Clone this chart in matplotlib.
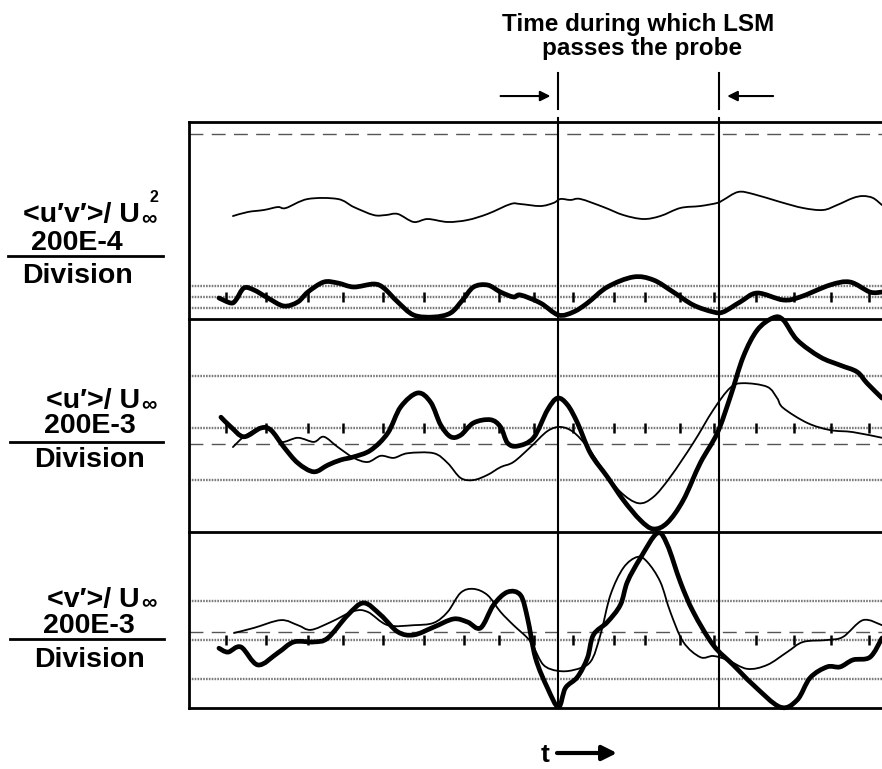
import numpy as np
import matplotlib
matplotlib.use("Agg")
import matplotlib.pyplot as plt
from matplotlib.path import Path
from matplotlib.patches import PathPatch, FancyArrowPatch

plt.rcParams["font.family"] = ["Liberation Sans", "DejaVu Sans"]
plt.rcParams["font.weight"] = "bold"

# ---- time base (arbitrary units) ----
T_MAX = 69.4
lsm_start = 37.0
lsm_end = 53.1
tick_t = [3.7, 7.7, 11.9, 15.4, 19.4, 23.5, 27.5, 31.0, 34.5, 38.5,
          42.6, 45.7, 49.2, 52.6, 56.8, 60.6, 64.3, 68.1]

# ---- <u'v'>/U^2 panel (values in divisions) ----
uv_thin_t = [4.4, 5.9, 7.5, 8.9, 9.7, 11.9, 14.9, 16.5, 18.5, 19.7, 20.9, 22.5,
             23.9, 25.9, 27.9, 29.9, 32.2, 33.2, 35.2, 36.5, 37.2, 38.2, 39.2,
             41.5, 43.5, 45.5, 47.2, 49.2, 51.2, 52.9, 53.5, 55.0, 56.5, 59.2,
             61.5, 63.5, 64.9, 66.5, 67.5, 68.5, 69.4]
uv_thin_y = [7.36, 7.73, 7.91, 8.18, 8.09, 8.91, 8.91, 8.18, 7.45, 7.45, 7.55, 6.82,
             7.09, 6.82, 7.00, 7.55, 8.45, 8.45, 8.27, 8.55, 8.91, 8.82, 8.91,
             8.18, 7.45, 7.09, 7.36, 8.09, 8.27, 8.55, 8.82, 9.55, 9.36, 8.64,
             8.09, 7.91, 8.36, 9.00, 9.18, 9.00, 8.36]
uv_thick_t = [3.0, 4.2, 4.7, 5.5, 6.5, 7.9, 9.5, 10.9, 11.9, 13.5, 14.9, 16.5,
              18.5, 19.5, 20.9, 22.5, 24.5, 26.2, 27.4, 28.5, 29.9, 31.2, 32.5,
              33.2, 35.2, 37.0, 38.5, 39.9, 41.9, 44.5, 46.5, 48.5, 50.5, 52.5,
              53.5, 55.2, 56.9, 59.5, 61.2, 64.2, 66.2, 68.2, 69.4]
uv_thick_y = [-0.09, -0.55, -0.27, 0.82, 0.64, -0.09, -0.82, -0.45, 0.45, 1.36, 1.27, 0.91,
              1.18, 0.82, -0.45, -1.64, -1.82, -1.45, -0.27, 0.91, 1.09, 0.45, 0.00,
              0.18, -0.55, -1.64, -1.36, -0.55, 0.91, 1.82, 1.55, 0.45, -0.73, -1.36,
              -1.36, -0.45, 0.36, -0.27, 0.00, 1.09, 1.36, 0.45, 0.45]

# ---- <u'>/U panel ----
u_thin_t = [4.4, 5.5, 7.2, 8.2, 9.2, 10.9, 12.5, 13.5, 14.9, 16.5, 17.9, 19.2,
            20.5, 21.9, 24.5, 25.9, 27.2, 28.5, 29.9, 31.2, 32.5, 34.2, 35.9,
            37.2, 38.5, 39.9, 41.5, 43.2, 45.0, 46.5, 48.2, 50.5, 52.5, 54.2,
            55.5, 57.9, 58.9, 59.5, 61.9, 64.2, 66.5, 69.4]
u_thin_y = [-0.37, -0.17, 0.02, -0.04, -0.27, -0.19, -0.27, -0.17, -0.37, -0.58, -0.66, -0.54,
            -0.58, -0.49, -0.49, -0.68, -0.97, -1.01, -0.91, -0.76, -0.66, -0.37, -0.06,
            0.02, -0.08, -0.37, -0.82, -1.24, -1.46, -1.34, -0.95, -0.29, 0.35, 0.78,
            0.87, 0.80, 0.58, 0.39, 0.10, -0.04, -0.08, -0.19]
u_thick_t = [3.2, 4.2, 5.5, 7.2, 8.2, 9.5, 10.9, 12.5, 13.9, 15.2, 16.5, 18.2,
             19.9, 21.2, 22.9, 24.2, 25.2, 26.2, 27.2, 28.5, 30.2, 31.2, 31.9,
             32.9, 34.5, 35.9, 36.9, 37.9, 38.9, 40.2, 41.9, 43.5, 45.2, 46.5,
             47.9, 49.5, 51.2, 52.9, 54.2, 55.5, 56.9, 58.5, 59.5, 60.9, 63.2,
             65.2, 66.9, 67.9, 69.4]
u_thick_y = [0.21, 0.02, -0.17, 0.00, -0.04, -0.37, -0.68, -0.85, -0.72, -0.62, -0.56, -0.43,
             -0.10, 0.41, 0.68, 0.50, 0.06, -0.17, -0.14, 0.10, 0.16, 0.02, -0.29,
             -0.35, -0.19, 0.35, 0.58, 0.45, 0.10, -0.49, -0.95, -1.40, -1.79, -1.96,
             -1.84, -1.40, -0.68, -0.10, 0.60, 1.38, 1.90, 2.14, 2.10, 1.71, 1.38,
             1.22, 1.09, 0.87, 0.58]

# ---- <v'>/U panel ----
v_thin_t = [4.5, 6.5, 9.2, 10.9, 12.2, 14.2, 16.5, 17.9, 19.9, 22.5, 24.5, 25.9,
            27.2, 28.5, 29.9, 31.2, 32.5, 33.9, 34.5, 35.5, 36.9, 38.5, 40.2,
            41.2, 42.2, 43.5, 44.9, 45.9, 47.2, 48.2, 49.5, 51.2, 52.5, 53.9,
            55.9, 57.9, 59.9, 61.5, 63.9, 65.5, 67.5, 69.4]
v_thin_y = [0.18, 0.31, 0.51, 0.38, 0.26, 0.46, 0.74, 0.72, 0.38, 0.38, 0.44, 0.72,
            1.21, 1.31, 1.15, 0.72, 0.38, 0.05, -0.18, -0.64, -0.79, -0.77, -0.56,
            0.13, 1.15, 1.85, 2.13, 2.00, 1.49, 0.72, -0.05, -0.44, -0.41, -0.51,
            -0.74, -0.64, -0.31, -0.05, 0.00, 0.08, 0.51, 0.38]
v_thick_t = [3.0, 3.9, 5.2, 6.9, 8.9, 10.5, 12.5, 13.9, 15.9, 17.5, 19.2, 20.9,
             22.5, 24.5, 26.5, 27.9, 29.2, 30.5, 31.9, 33.2, 33.9, 34.7, 35.9,
             37.0, 37.7, 38.9, 39.9, 40.5, 41.9, 43.2, 43.9, 45.2, 46.9, 47.9,
             49.2, 50.5, 52.5, 54.5, 56.5, 59.2, 60.9, 62.2, 63.9, 65.2, 66.5,
             68.2, 69.4]
v_thick_y = [-0.21, -0.31, -0.18, -0.64, -0.33, -0.05, -0.05, 0.05, 0.64, 0.95, 0.64, 0.21,
             0.13, 0.33, 0.54, 0.46, 0.31, 0.90, 1.23, 1.15, 0.56, -0.46, -1.23,
             -1.72, -1.23, -0.95, -0.46, 0.13, 0.46, 0.90, 1.49, 2.10, 2.74, 2.44,
             1.49, 0.72, -0.13, -0.64, -1.15, -1.72, -1.54, -0.97, -0.69, -0.69, -0.51,
             -0.44, 0.05]

# ---- panel ranges and reference lines (divisions) ----
uv_ylim = (-1.955, 15.91)
u_ylim = (-2.025, 2.126)
v_ylim = (-1.744, 2.762)
uv_grid = [-1, 0, 1]
u_grid = [-1, 0, 1]
v_grid = [-1, 0, 1]
uv_dash = 14.79
u_dash = -0.32
v_dash = 0.21

W, H = 882, 769
fig = plt.figure(figsize=(W / 100, H / 100), dpi=100)


def fx(px):
    return px / W


def fy(py):
    return 1 - py / H


def smooth_path(t, y):
    p = np.column_stack([t, y]).astype(float)
    n = len(p)
    verts = [p[0]]
    codes = [Path.MOVETO]
    for i in range(n - 1):
        p0 = p[i - 1] if i > 0 else p[i]
        p1 = p[i]
        p2 = p[i + 1]
        p3 = p[i + 2] if i + 2 < n else p[i + 1]
        verts += [p1 + (p2 - p0) / 6, p2 - (p3 - p1) / 6, p2]
        codes += [Path.CURVE4] * 3
    return Path(verts, codes)


def trace(ax, t, y, lw):
    ax.add_patch(PathPatch(smooth_path(t, y), fill=False, edgecolor="black", lw=lw,
                           capstyle="round", joinstyle="round", clip_on=False, zorder=5))


def panel(rect, ylim, grid, dash, top_spine=False):
    ax = fig.add_axes(rect)
    ax.patch.set_visible(False)
    ax.set_xlim(0, T_MAX)
    ax.set_ylim(*ylim)
    ax.set_xticks([])
    ax.set_yticks([])
    ax.spines["right"].set_visible(False)
    ax.spines["top"].set_visible(top_spine)
    for side in ["left", "bottom", "top"]:
        ax.spines[side].set_linewidth(2.0)
    for g in grid:
        ax.axhline(g, color="#7a7a7a", lw=1.7, ls=(0, (0.7, 0.5)), zorder=1)
    ax.axhline(dash, color="#555555", lw=1.0, ls=(0, (10, 6)), zorder=1)
    ax.plot(tick_t, np.zeros(len(tick_t)), ls="none", marker="|", ms=7.5, mew=1.8,
            color="black", zorder=3)
    return ax


left = fx(189)
ax1 = panel([left, fy(318.5), 1 - left, (318.5 - 122) / H], uv_ylim, uv_grid, uv_dash, top_spine=True)
ax2 = panel([left, fy(532.3), 1 - left, (532.3 - 318.5) / H], u_ylim, u_grid, u_dash)
ax3 = panel([left, fy(708), 1 - left, (708 - 532.3) / H], v_ylim, v_grid, v_dash)

trace(ax1, uv_thin_t, uv_thin_y, 1.3)
trace(ax1, uv_thick_t, uv_thick_y, 3.4)
trace(ax2, u_thin_t, u_thin_y, 1.3)
trace(ax2, u_thick_t, u_thick_y, 3.4)
trace(ax3, v_thin_t, v_thin_y, 1.3)
trace(ax3, v_thick_t, v_thick_y, 3.4)

# markers for the LSM passage
for t in (lsm_start, lsm_end):
    ax1.plot([t, t], [uv_ylim[0], 16.27], color="black", lw=1.5, clip_on=False, zorder=4)
    ax1.plot([t, t], [17.09, 20.36], color="black", lw=1.5, clip_on=False, zorder=4)
    ax2.axvline(t, color="black", lw=1.5, zorder=4)
    ax3.axvline(t, color="black", lw=1.5, zorder=4)

arrow_y = 18.27
for x0, x1 in ((lsm_start - 5.8, lsm_start - 0.8), (lsm_end + 5.4, lsm_end + 0.8)):
    ax1.add_patch(FancyArrowPatch((x0, arrow_y), (x1, arrow_y), arrowstyle="-|>",
                                  mutation_scale=15, lw=1.5, color="black",
                                  clip_on=False, shrinkA=0, shrinkB=0))

fig.text(fx(638.5), fy(31), "Time during which LSM", ha="center", va="baseline",
         fontsize=17.5, fontweight="bold")
fig.text(fx(642), fy(55), "passes the probe", ha="center", va="baseline",
         fontsize=17.5, fontweight="bold")

# axis labels on the left
labels = [
    ("<u′v′>/ U", "2", "200E-4", 222, 224, (77, 250), 256, (77, 283), (8, 163)),
    ("<u′>/ U", None, "200E-3", 408, 410, (90, 433), 442, (89, 467), (10, 163)),
    ("<v′>/ U", None, "200E-3", 607, 608, (89, 633), 639, (90, 667), (10, 164)),
]
LBL = 20.5
for name, power, scale, base, inf_base, p2, line_y, p3, (lx0, lx1) in labels:
    fig.text(fx(140), fy(base), name, ha="right", va="baseline", fontsize=LBL,
             fontweight="bold")
    fig.text(fx(141), fy(inf_base), "∞", ha="left", va="baseline", fontsize=15.5,
             fontweight="bold")
    if power:
        fig.text(fx(149), fy(202), power, ha="left", va="baseline", fontsize=11.5,
                 fontweight="bold")
    fig.text(fx(p2[0]), fy(p2[1]), scale, ha="center", va="baseline", fontsize=LBL,
             fontweight="bold")
    fig.add_artist(plt.Line2D([fx(lx0), fx(lx1)], [fy(line_y), fy(line_y)],
                              transform=fig.transFigure, color="black", lw=2.0))
    fig.text(fx(p3[0]), fy(p3[1]), "Division", ha="center", va="baseline", fontsize=LBL,
             fontweight="bold")

fig.text(fx(545), fy(762), "t", ha="center", va="baseline", fontsize=19, fontweight="bold")
fig.add_artist(FancyArrowPatch((fx(557), fy(753)), (fx(617), fy(753)),
                               transform=fig.transFigure, arrowstyle="-|>",
                               mutation_scale=22, lw=3.0, color="black",
                               shrinkA=0, shrinkB=0))

fig.savefig("out.png", dpi=100)
